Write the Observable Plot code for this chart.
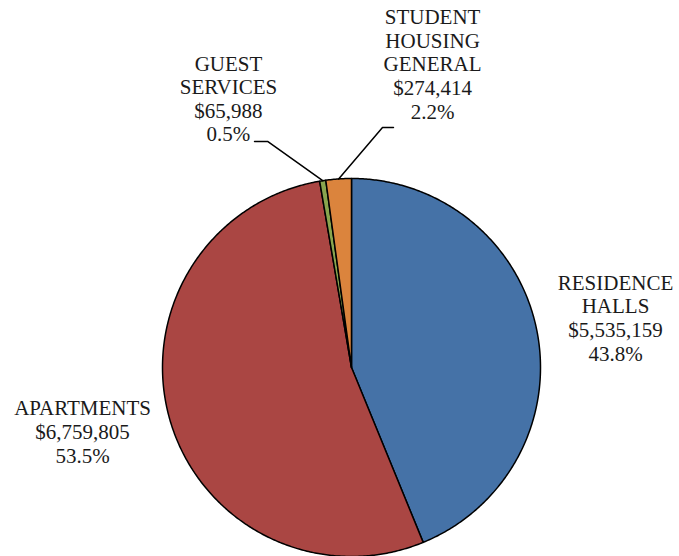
<!DOCTYPE html>
<html><head><meta charset="utf-8">
<script src="https://cdn.jsdelivr.net/npm/d3@7"></script>
<script src="https://cdn.jsdelivr.net/npm/@observablehq/plot@0.6"></script>
<style>
body{margin:0;background:#fff}
</style>
</head><body><div id="chart"></div>
<script>
// Data
const categories = ["RESIDENCE HALLS", "APARTMENTS", "GUEST SERVICES", "STUDENT HOUSING GENERAL"];
const amounts = [5535159, 6759805, 65988, 274414];
const percentLabels = ["43.8%", "53.5%", "0.5%", "2.2%"];
const colors = ["#4572A7", "#AA4643", "#89A54E", "#DB843D"];

// Layout (in pie-radius units, relative to centre)
const W = 679, H = 556, R = 189, CX = 351, CY = 367;
const labelAt = {
  "RESIDENCE HALLS": {x: 1.397, y: 0.037},
  "APARTMENTS": {x: -1.423, y: -0.503},
  "GUEST SERVICES": {x: -0.651, y: 1.196, leader: [[-0.513, 1.196], [-0.444, 1.196]]},
  "STUDENT HOUSING GENERAL": {x: 0.429, y: 1.317, leader: [[0.222, 1.270], [0.164, 1.270]]}
};
const labelLines = {
  "RESIDENCE HALLS": ["RESIDENCE", "HALLS"],
  "APARTMENTS": ["APARTMENTS"],
  "GUEST SERVICES": ["GUEST", "SERVICES"],
  "STUDENT HOUSING GENERAL": ["STUDENT", "HOUSING", "GENERAL"]
};

const total = d3.sum(amounts);
const fmt = d3.format("$,");
let cum = 0;
const slices = categories.map((name, i) => {
  const a0 = cum / total * 2 * Math.PI;
  cum += amounts[i];
  const a1 = cum / total * 2 * Math.PI;
  return {name, a0, a1, mid: (a0 + a1) / 2, i};
});

const polyPts = [];
for (const s of slices) {
  polyPts.push({name: s.name, x: 0, y: 0});
  const n = Math.max(2, Math.ceil((s.a1 - s.a0) / (Math.PI / 360)));
  for (let k = 0; k <= n; k++) {
    const a = s.a0 + (s.a1 - s.a0) * k / n;
    polyPts.push({name: s.name, x: Math.sin(a), y: Math.cos(a)});
  }
}

const labels = slices.map(s => ({
  x: labelAt[s.name].x, y: labelAt[s.name].y,
  text: [...labelLines[s.name], fmt(amounts[s.i]), percentLabels[s.i]].join("\n")
}));

const leaderPts = [];
for (const s of slices) {
  const L = labelAt[s.name].leader;
  if (!L) continue;
  for (const [x, y] of L) leaderPts.push({name: s.name, x, y});
  leaderPts.push({name: s.name, x: Math.sin(s.mid), y: Math.cos(s.mid)});
}

const chart = Plot.plot({
  width: W, height: H,
  margin: 0,
  x: {domain: [-CX / R, (W - CX) / R], axis: null},
  y: {domain: [(CY - H) / R, CY / R], axis: null},
  color: {domain: categories, range: colors},
  style: {background: "#fff"},
  marks: [
    Plot.line(polyPts, {x: "x", y: "y", z: "name", fill: "name", stroke: "#000", strokeWidth: 1.5, curve: "linear-closed", strokeLinejoin: "round"}),
    Plot.line(leaderPts, {x: "x", y: "y", z: "name", stroke: "#000", strokeWidth: 1.5}),
    Plot.text(labels, {x: "x", y: "y", text: "text", textAnchor: "middle", lineAnchor: "bottom", lineHeight: 1.124, fontSize: 21, fill: "#1a1a1a", fontFamily: "Liberation Serif"})
  ]
});
document.getElementById("chart").appendChild(chart);
</script></body></html>
